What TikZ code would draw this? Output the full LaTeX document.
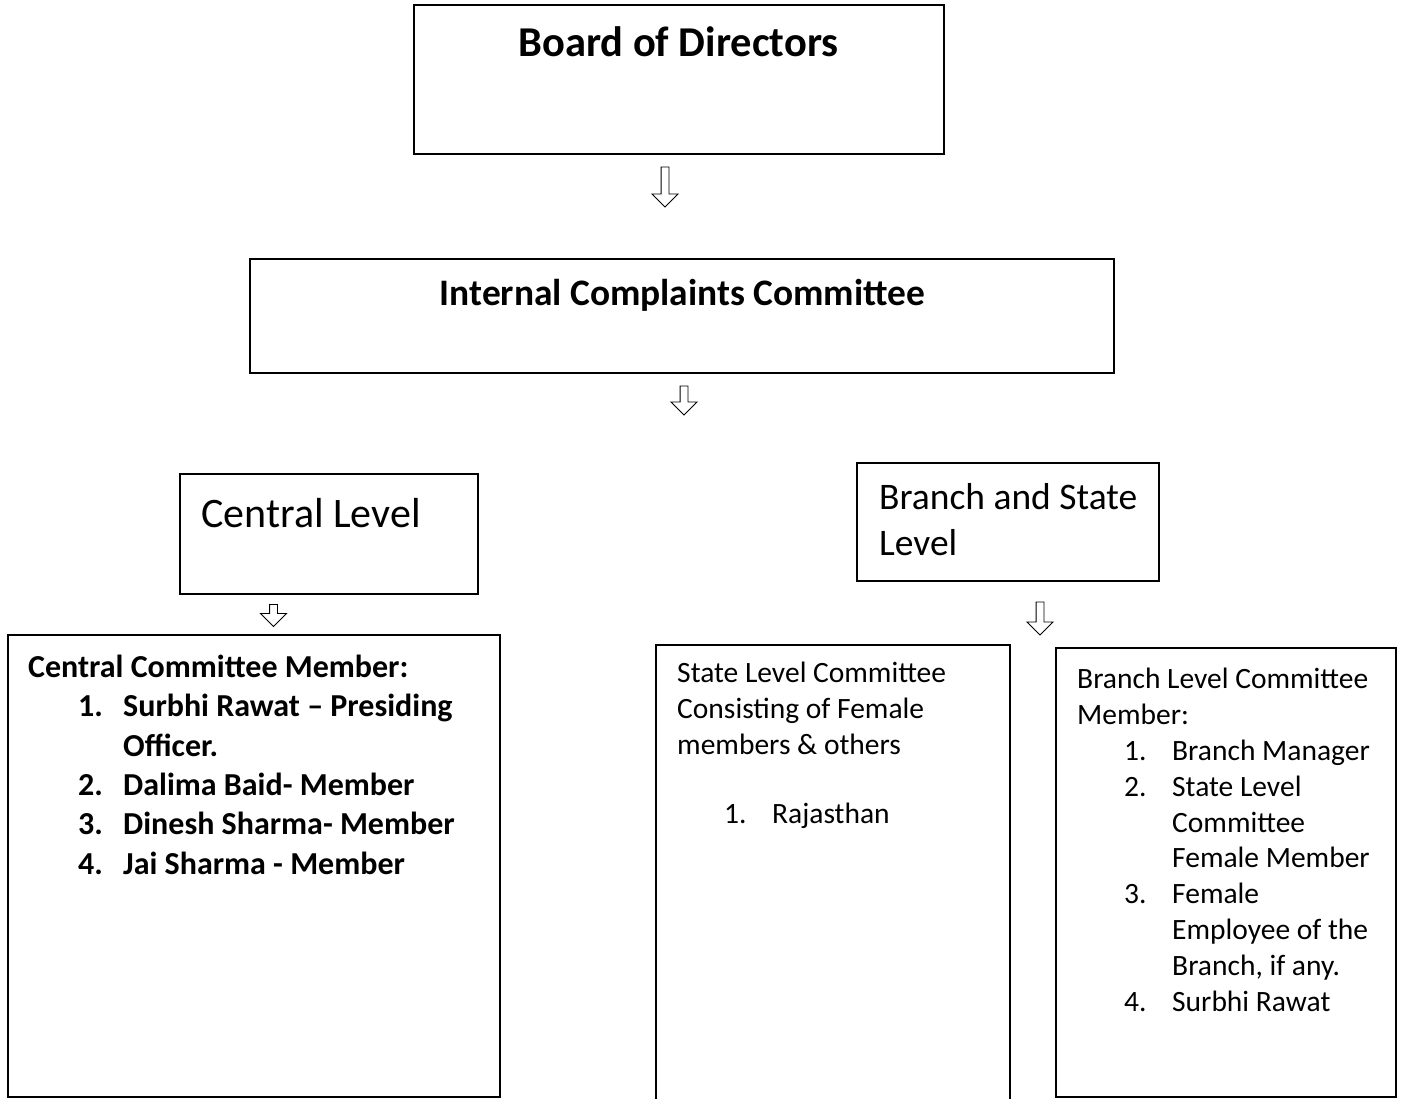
\documentclass[tikz,border=0pt]{standalone}
\usepackage{fontspec}
\setmainfont{Carlito}
\usetikzlibrary{shapes.arrows}

% list line: indent, number box, number
\newcommand{\numitem}[3]{\hspace*{#1}\makebox[#2][l]{#3}}

\tikzset{
  orgbox/.style={draw, rectangle, line width=1.5pt, inner sep=0pt},
  downarrow/.style={single arrow, draw, line width=0.9pt, shape border rotate=270,
    inner sep=3.5pt, single arrow head extend=9pt, minimum width=25pt},
  boxtext/.style={anchor=base west, align=left, inner sep=0pt},
}

\begin{document}
\begin{tikzpicture}[x=1pt, y=-1pt]
	\useasboundingbox (0,0) rectangle (1404,1099);

	% top levels
	\node[orgbox, minimum width=530pt, minimum height=149pt] (board) at (679,79.5) {};
	\node[anchor=base, inner sep=0pt, font=\bfseries\fontsize{42.5}{52}\selectfont] (boardtxt) at (678.5,57) {Board of Directors};
	\node[downarrow, minimum height=40pt] (arrowA) at (665,185) {};

	\node[orgbox, minimum width=864pt, minimum height=114pt] (icc) at (682,316) {};
	\node[anchor=base, inner sep=0pt, font=\bfseries\fontsize{37.4}{46}\selectfont] (icctxt) at (682.5,305) {Internal Complaints Committee};
	\node[downarrow, minimum height=29pt] (arrowB) at (684,398.5) {};

	% central side (multi-line texts: base = last line)
	\node[orgbox, minimum width=298pt, minimum height=120pt] (central) at (329,534) {};
	\node[boxtext, font=\fontsize{42}{50}\selectfont] (centraltxt) at (201,527) {Central Level};
	\node[downarrow, minimum height=22pt, minimum width=24pt] (arrowC) at (273.5,613.5) {};

	\node[orgbox, minimum width=492pt, minimum height=462pt] (ccm) at (254,866) {};
	\node[boxtext, font=\bfseries\fontsize{32}{39.3}\selectfont] (ccmtxt) at (28,874) {Central Committee Member:\\
		\numitem{50pt}{45pt}{1.}Surbhi Rawat -- Presiding\\
		\numitem{50pt}{45pt}{}Officer.\\
		\numitem{50pt}{45pt}{2.}Dalima Baid- Member\\
		\numitem{50pt}{45pt}{3.}Dinesh Sharma- Member\\
		\numitem{50pt}{45pt}{4.}Jai Sharma - Member};

	% branch and state side
	\node[orgbox, minimum width=302pt, minimum height=118pt] (bsl) at (1008,522) {};
	\node[boxtext, font=\fontsize{37.5}{46}\selectfont] (bsltxt) at (879,555) {Branch and State\\Level};
	\node[downarrow, minimum height=33pt] (arrowD) at (1040,616.5) {};

	\node[orgbox, minimum width=354pt, minimum height=465pt] (slc) at (833,877.5) {};
	\node[boxtext, font=\fontsize{29.5}{36.3}\selectfont] (slctxt) at (677,823) {State Level Committee\\
		Consisting of Female\\
		members \& others\\[32pt]
		\numitem{47pt}{48pt}{1.}Rajasthan};

	\node[orgbox, minimum width=340pt, minimum height=449pt] (blc) at (1226,872.5) {};
	\node[boxtext, font=\fontsize{29.5}{35.8}\selectfont] (blctxt) at (1077,1011) {Branch Level Committee\\
		Member:\\
		\numitem{47pt}{48pt}{1.}Branch Manager\\
		\numitem{47pt}{48pt}{2.}State Level\\
		\numitem{47pt}{48pt}{}Committee\\
		\numitem{47pt}{48pt}{}Female Member\\
		\numitem{47pt}{48pt}{3.}Female\\
		\numitem{47pt}{48pt}{}Employee of the\\
		\numitem{47pt}{48pt}{}Branch, if any.\\
		\numitem{47pt}{48pt}{4.}Surbhi Rawat};
\end{tikzpicture}
\end{document}
